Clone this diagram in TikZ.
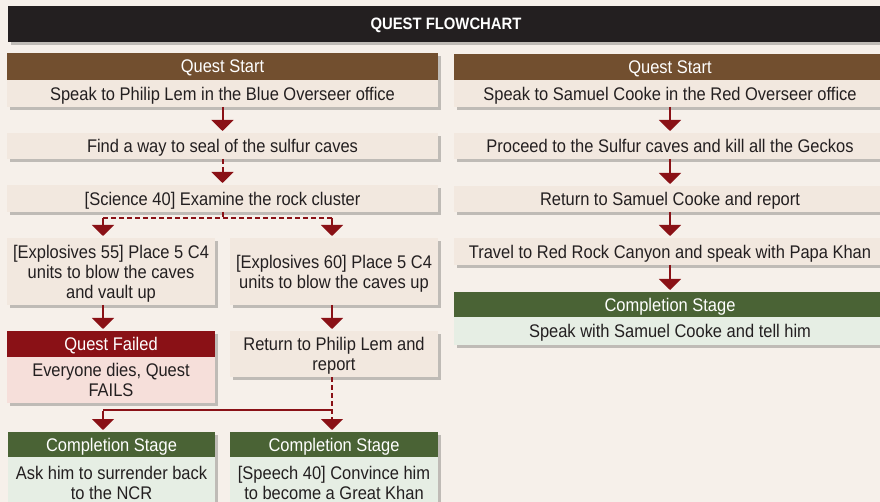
\documentclass[tikz,border=0pt]{standalone}
\usepackage{fontspec}
\setmainfont{Liberation Sans}[FakeStretch=0.9]
\usetikzlibrary{arrows.meta,shadows}
\definecolor{bgc}{HTML}{F6F0EA}
\definecolor{boxc}{HTML}{F2E8DF}
\definecolor{brownc}{HTML}{724F2F}
\definecolor{redc}{HTML}{8A1116}
\definecolor{greenc}{HTML}{4A6335}
\definecolor{greenl}{HTML}{E6EEE4}
\definecolor{pinkc}{HTML}{F6DFDA}
\definecolor{titlec}{HTML}{231F20}
\definecolor{txtc}{HTML}{231F20}
\definecolor{arrc}{HTML}{8A1116}
\begin{document}
\begin{tikzpicture}[x=1pt,y=-1pt,
  font=\fontsize{18.3}{20}\selectfont,
  box/.style={draw=none, fill=boxc, text=txtc, inner sep=0pt, outer sep=0pt,
    anchor=north west, align=center, text depth=0pt,
    drop shadow={shadow xshift=2.5pt, shadow yshift=-3pt, opacity=0.22, fill=black}},
  hdr/.style={box, text=white},
  brownhdr/.style={hdr, fill=brownc},
  redhdr/.style={hdr, fill=redc},
  greenhdr/.style={hdr, fill=greenc},
  greenbody/.style={box, fill=greenl},
  pinkbody/.style={box, fill=pinkc},
  arr/.style={draw=arrc, line width=2pt, -{Triangle[width=22pt,length=11pt]}, shorten >=2pt},
  darr/.style={arr, dash pattern=on 5pt off 3pt},
  dline/.style={draw=arrc, line width=2pt, dash pattern=on 5pt off 3pt},
  sline/.style={draw=arrc, line width=2pt}
]
\fill[bgc] (0,0) rectangle (880,502);
\useasboundingbox (0,0) rectangle (880,502);
\clip (0,0) rectangle (880,502);

% title
\node[box, fill=titlec, text=white, minimum width=876pt, minimum height=36pt,
  font=\fontsize{16.5}{20}\selectfont\bfseries] (title) at (8,6) {QUEST FLOWCHART};

% left column
\node[brownhdr, minimum width=431pt, minimum height=27pt] (lqs) at (7,53) {Quest Start};
\node[box, minimum width=431pt, minimum height=27pt] (lb1) at (7,80) {Speak to Philip Lem in the Blue Overseer office};
\node[box, minimum width=431pt, minimum height=26pt] (lb2) at (7,133) {Find a way to seal of the sulfur caves};
\node[box, minimum width=431pt, minimum height=27pt] (lb3) at (7,185) {[Science 40] Examine the rock cluster};
\node[box, minimum width=208pt, minimum height=67pt] (lb4a) at (7,238) {[Explosives 55] Place 5 C4\\units to blow the caves\\and vault up};
\node[box, minimum width=208pt, minimum height=67pt] (lb4b) at (230,238) {[Explosives 60] Place 5 C4\\units to blow the caves up};
\node[redhdr, minimum width=208pt, minimum height=26pt] (qf) at (7,331) {Quest Failed};
\node[pinkbody, minimum width=208pt, minimum height=46pt] (qfb) at (7,357) {Everyone dies, Quest\\FAILS};
\node[box, minimum width=208pt, minimum height=46pt] (lret) at (230,331) {Return to Philip Lem and\\report};
\node[greenhdr, minimum width=207pt, minimum height=25pt] (lcs1) at (8,432) {Completion Stage};
\node[greenbody, minimum width=207pt, minimum height=52pt] (lcb1) at (8,457) {Ask him to surrender back\\to the NCR};
\node[greenhdr, minimum width=208pt, minimum height=25pt] (lcs2) at (230,432) {Completion Stage};
\node[greenbody, minimum width=208pt, minimum height=52pt] (lcb2) at (230,457) {[Speech 40] Convince him\\to become a Great Khan};

% right column
\node[brownhdr, minimum width=432pt, minimum height=26pt] (rqs) at (454,54) {Quest Start};
\node[box, minimum width=432pt, minimum height=27pt] (rb1) at (454,80) {Speak to Samuel Cooke in the Red Overseer office};
\node[box, minimum width=432pt, minimum height=26pt] (rb2) at (454,133) {Proceed to the Sulfur caves and kill all the Geckos};
\node[box, minimum width=432pt, minimum height=26pt] (rb3) at (454,186) {Return to Samuel Cooke and report};
\node[box, minimum width=432pt, minimum height=27pt] (rb4) at (454,238) {Travel to Red Rock Canyon and speak with Papa Khan};
\node[greenhdr, minimum width=432pt, minimum height=25pt] (rcs) at (454,292) {Completion Stage};
\node[greenbody, minimum width=432pt, minimum height=28pt] (rcb) at (454,317) {Speak with Samuel Cooke and tell him};

% left connectors
\draw[arr] (lb1.south) -- (lb2.north);
\draw[darr] (lb2.south) -- (lb3.north);
\coordinate (jl) at (103,218);
\coordinate (jr) at (332,218);
\draw[dline] (lb3.south) -- (lb3.south |- jl);
\draw[dline] (jl) -- (jr);
\draw[arr] (jl) -- (jl |- lb4a.north);
\draw[arr] (jr) -- (jr |- lb4b.north);
\draw[arr] (lb4a.south -| jl) -- (jl |- qf.north);
\draw[arr] (lb4b.south -| jr) -- (jr |- lret.north);
\coordinate (kl) at (103,410);
\coordinate (kr) at (332,410);
\draw[darr] (lret.south -| kr) -- (kr |- lcs2.north);
\draw[sline] (kr) -- (kl);
\draw[arr] ([yshift=-1pt]kl) -- (kl |- lcs1.north);

% right connectors
\draw[arr] (rb1.south) -- (rb2.north);
\draw[arr] (rb2.south) -- (rb3.north);
\draw[arr] (rb3.south) -- (rb4.north);
\draw[arr] (rb4.south) -- (rcs.north);
\end{tikzpicture}
\end{document}
